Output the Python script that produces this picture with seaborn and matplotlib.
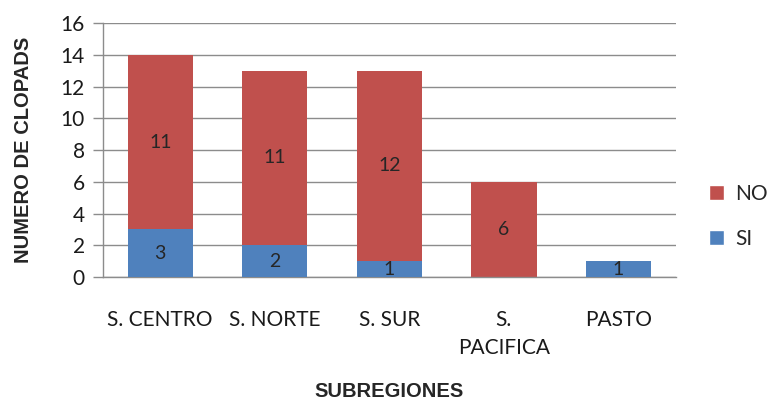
import pandas as pd
import matplotlib
matplotlib.use("Agg")
import matplotlib.pyplot as plt
import seaborn as sns
from matplotlib.patches import Patch

# data
regiones = ["S. CENTRO", "S. NORTE", "S. SUR", "S.\nPACIFICA", "PASTO"]
si_vals = [3, 2, 1, 0, 1]
no_vals = [11, 11, 12, 6, 0]
y_ticks = [0, 2, 4, 6, 8, 10, 12, 14, 16]

color_si = "#4F81BD"
color_no = "#C0504D"
grid_color = "#8C8C8C"

sns.set_style("white")
plt.rcParams["font.family"] = ["Lato", "DejaVu Sans"]

df = pd.DataFrame({"region": regiones, "SI": si_vals, "NO": no_vals})
df["total"] = df["SI"] + df["NO"]

fig = plt.figure(figsize=(7.76, 4.05), dpi=100)
ax = fig.add_axes([0.1327, 0.316, 0.738, 0.627])

# stacked look: totals in red, SI drawn over them in blue
sns.barplot(data=df, x="region", y="total", color=color_no, width=0.57,
            saturation=1, edgecolor="none", linewidth=0, ax=ax, zorder=2)
sns.barplot(data=df, x="region", y="SI", color=color_si, width=0.57,
            saturation=1, edgecolor="none", linewidth=0, ax=ax, zorder=3)

for i, row in df.iterrows():
    if row["SI"] > 0:
        ax.text(i, row["SI"] / 2, str(row["SI"]), ha="center", va="center",
                fontsize=14, color="#262626", zorder=4)
    if row["NO"] > 0:
        ax.text(i, row["SI"] + row["NO"] / 2, str(row["NO"]), ha="center",
                va="center", fontsize=14, color="#262626", zorder=4)

ax.set_ylim(0, 16)
ax.set_xlim(-0.5, len(regiones) - 0.5)
ax.set_yticks(y_ticks)
ax.yaxis.grid(True, color=grid_color, linewidth=1)
ax.set_axisbelow(True)

for side in ["top", "right"]:
    ax.spines[side].set_visible(False)
for side in ["left", "bottom"]:
    ax.spines[side].set_color(grid_color)
    ax.spines[side].set_linewidth(1)

ax.tick_params(axis="y", length=7, width=1, color=grid_color, labelsize=15,
               labelcolor="#1a1a1a", left=True, pad=6)
ax.tick_params(axis="x", length=0, labelsize=15, labelcolor="#1a1a1a", pad=24)
for lbl in ax.get_xticklabels():
    lbl.set_multialignment("center")
    lbl.set_linespacing(1.5)

ax.set_xlabel("SUBREGIONES", fontsize=14.5, fontweight="bold",
              family="Liberation Sans", labelpad=17)
ax.set_ylabel("NUMERO DE CLOPADS", fontsize=14.5, fontweight="bold",
              family="Liberation Sans", labelpad=20)

handles = [Patch(facecolor=color_no, label="NO"), Patch(facecolor=color_si, label="SI")]
ax.legend(handles=handles, loc="center left", bbox_to_anchor=(1.025, 0.24),
          frameon=False, fontsize=15, handlelength=0.75, handleheight=0.75,
          handletextpad=0.5, labelspacing=1.2)

fig.savefig("out.png", dpi=100)
